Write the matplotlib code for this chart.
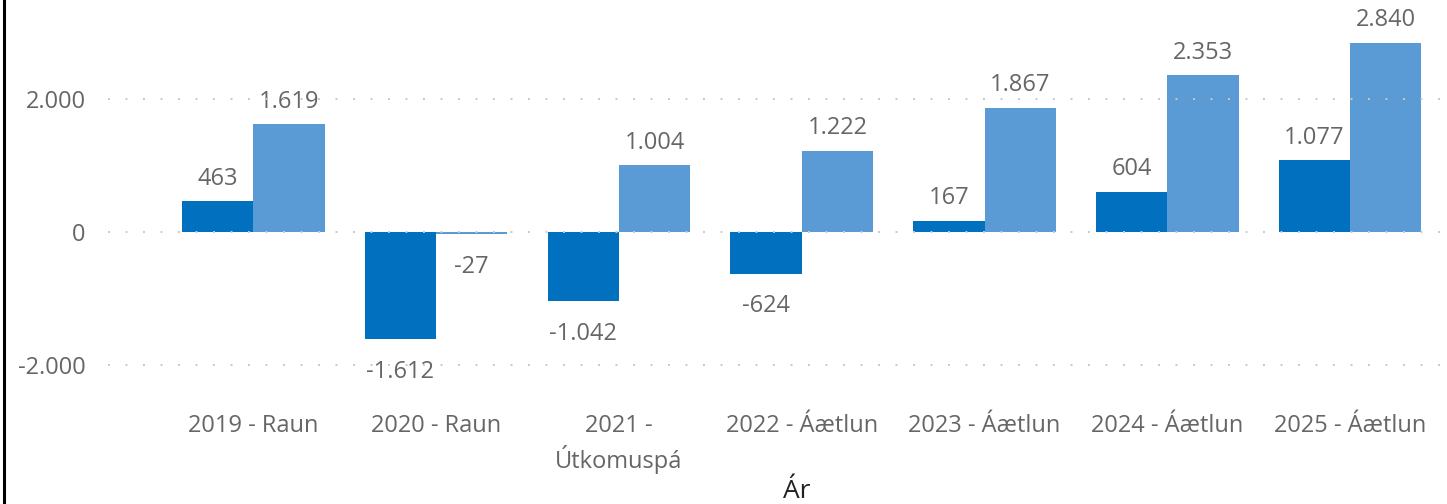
import numpy as np
import matplotlib
matplotlib.use("Agg")
import matplotlib.pyplot as plt

categories = ["2019 - Raun", "2020 - Raun", "2021 -\nÚtkomuspá", "2022 - Áætlun",
              "2023 - Áætlun", "2024 - Áætlun", "2025 - Áætlun"]
series_a = [463, -1612, -1042, -624, 167, 604, 1077]
series_b = [1619, -27, 1004, 1222, 1867, 2353, 2840]
yticks = [-2000, 0, 2000]

DARK = "#0070BF"
LIGHT = "#5B9BD5"
MUTED = "#666666"
FONT = "Open Sans"
FS = 17


def fmt(v):
    return f"{v:,.0f}".replace(",", ".")


W, H = 1447, 504
fig = plt.figure(figsize=(W / 100, H / 100), dpi=100)
ax = fig.add_axes([108 / W, 1 - 392 / H, (W - 108) / W, 392 / H])

x = np.arange(len(categories))
bw = 0.39
bars_a = ax.bar(x - bw / 2, series_a, bw, color=DARK, zorder=2)
bars_b = ax.bar(x + bw / 2, series_b, bw, color=LIGHT, zorder=2)

for bars, vals in ((bars_a, series_a), (bars_b, series_b)):
    for b, v in zip(bars, vals):
        cx = b.get_x() + b.get_width() / 2
        off = 7.5 if v >= 0 else -15
        ax.annotate(fmt(v), (cx, v), xytext=(0, off), textcoords="offset points",
                    ha="center", va="bottom" if v >= 0 else "top",
                    fontsize=FS, color=MUTED, family=FONT)

ax.set_xlim(-0.795, 6.53)
ax.set_ylim(-2400, 3480)
ax.set_yticks(yticks)
ax.set_yticklabels([fmt(v) for v in yticks], fontsize=FS, color=MUTED, family=FONT)
ax.set_xticks(x)
ax.set_xticklabels(categories, fontsize=FS, color=MUTED, family=FONT, linespacing=1.3)
ax.tick_params(length=0)
ax.tick_params(axis="x", pad=16)
ax.tick_params(axis="y", pad=16)
for s in ax.spines.values():
    s.set_visible(False)
for t in yticks:
    ax.axhline(t, color="#c8c8c8", lw=1.4, ls=(0, (1, 8)), zorder=3)

fig.text(797 / W, 0.5 / H, "Ár", ha="center", va="bottom",
         fontsize=19, color="#222222", family=FONT)

# left border of the visual
fig.add_artist(plt.Line2D([4 / W, 4 / W], [0, 1], color="black", lw=2.2,
                          transform=fig.transFigure))

fig.savefig("out.png", dpi=100)
